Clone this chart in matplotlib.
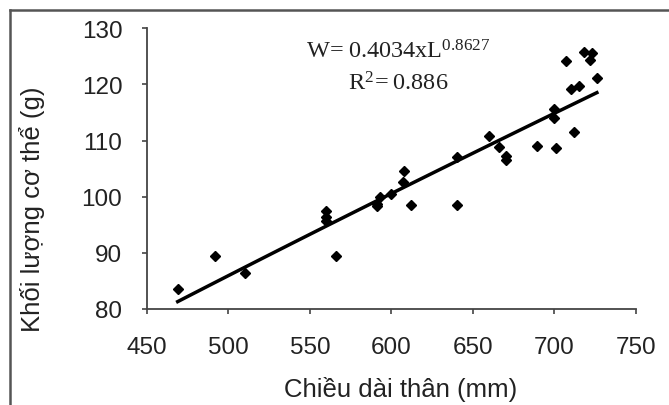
import matplotlib
matplotlib.use("Agg")
import matplotlib.pyplot as plt
from matplotlib.lines import Line2D
import numpy as np

# chieu dai than (mm) va khoi luong (g), doc tu hinh
length_mm = [469, 492, 510, 560, 560, 560, 566, 591, 591, 593, 600, 607,
             608, 612, 640, 640, 660, 666, 670, 670, 689, 701, 700, 700,
             707, 710, 712, 715, 718, 722, 723, 726]
weight_g = [83.5, 89.4, 86.4, 97.5, 96.3, 95.7, 89.4, 98.7, 98.4, 99.9,
            100.5, 102.6, 104.5, 98.6, 107.0, 98.5, 110.9, 108.8, 107.3,
            106.6, 109.0, 108.6, 115.6, 114.1, 124.1, 119.2, 111.5, 119.7,
            125.7, 124.4, 125.6, 121.1]

# he so duong hoi quy W = a * L^b
coef_a = 0.4034
coef_b = 0.8627
r_squared = 0.886

x_ticks = [450, 500, 550, 600, 650, 700, 750]
y_ticks = [80, 90, 100, 110, 120, 130]

plt.rcParams['font.family'] = ['Liberation Sans', 'DejaVu Sans']
plt.rcParams['mathtext.fontset'] = 'custom'
plt.rcParams['mathtext.rm'] = 'Liberation Serif'

fig = plt.figure(figsize=(6.69, 4.06), dpi=100)
ax = fig.add_axes([0.2193, 0.2365, 0.7314, 0.6913])

ax.plot(length_mm, weight_g, linestyle='none', marker='D', markersize=5,
        color='black')

lx = np.linspace(min(length_mm), max(length_mm), 100)
ax.plot(lx, coef_a * lx ** coef_b, color='black', linewidth=2.5)

ax.set_xlim(450, 750)
ax.set_ylim(80, 130)
ax.set_xticks(x_ticks)
ax.set_yticks(y_ticks)

for side in ['top', 'right']:
    ax.spines[side].set_visible(False)
for side in ['left', 'bottom']:
    ax.spines[side].set_color('#444444')
    ax.spines[side].set_linewidth(1.3)

ax.tick_params(axis='both', direction='out', length=3.6, width=1.2,
               color='#444444', labelsize=17.5, labelcolor='#222222')
ax.tick_params(axis='x', pad=16)
ax.tick_params(axis='y', pad=14)

ax.set_xlabel('Chiều dài thân (mm)', fontsize=18.5, color='#222222', va='center')
ax.set_ylabel('Khối lượng cơ thể (g)', fontsize=18.5, color='#222222', va='center')
ax.xaxis.set_label_coords(0.519, -0.285)
ax.yaxis.set_label_coords(-0.234, 0.36)

ax.text(0.513, 0.92, r'$\mathrm{W\!=0.4034xL^{%s}}$' % coef_b,
        transform=ax.transAxes, ha='center', va='center', fontsize=17.5,
        color='#222222')
ax.text(0.513, 0.805, r'$\mathrm{R^{2}\!= %s}$' % r_squared,
        transform=ax.transAxes, ha='center', va='center', fontsize=17.5,
        color='#222222')

# khung vien ngoai
fig.add_artist(Line2D([10 / 669, 10 / 669], [0, 1 - 11 / 406],
                      transform=fig.transFigure, color='#555555', linewidth=1.8))
fig.add_artist(Line2D([10 / 669, 1], [1 - 11 / 406, 1 - 11 / 406],
                      transform=fig.transFigure, color='#555555', linewidth=1.8))

fig.savefig('out.png', dpi=100)
